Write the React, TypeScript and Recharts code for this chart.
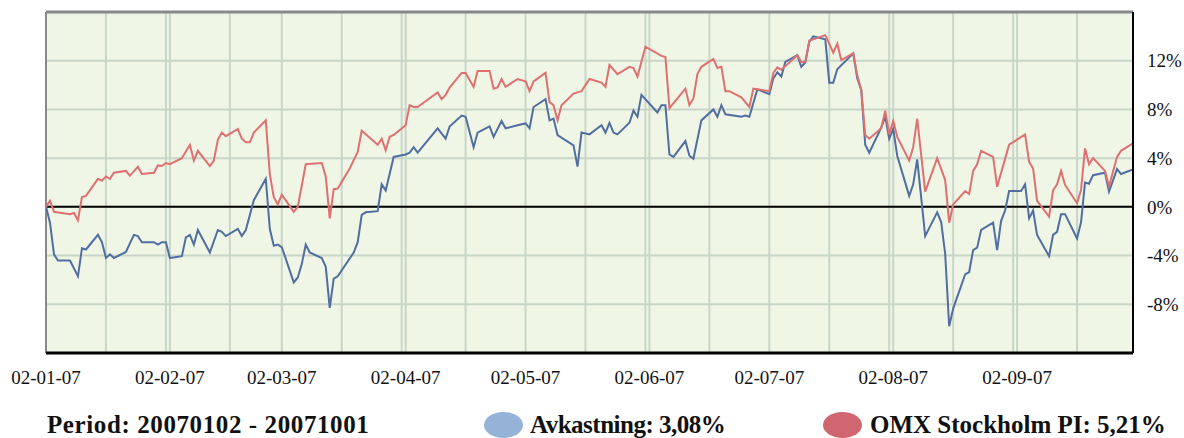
import React from 'react';
import { LineChart, Line, XAxis, YAxis, CartesianGrid, ReferenceLine } from 'recharts';

// Day offsets are calendar days counted from 2007-01-02
const avkDays = [0,1,2,3,6,8,9,10,13,14,15,16,17,20,22,23,24,27,28,29,30,31,34,35,36,37,38,41,43,44,45,48,49,50,52,55,56,57,58,59,62,63,64,65,66,69,70,71,72,73,77,78,79,80,83,84,85,87,90,91,92,93,98,100,101,104,105,107,108,111,112,114,115,118,120,121,122,125,126,127,128,132,133,134,136,139,140,141,142,143,146,147,148,149,153,154,155,156,157,160,161,162,164,167,168,169,170,174,175,176,178,181,182,183,184,185,188,189,190,191,192,195,196,197,198,202,203,204,205,206,209,210,211,212,213,216,217,218,220,223,224,225,226,227,230,231,232,233,234,237,238,239,240,241,244,245,246,247,248,251,252,253,254,255,258,259,260,261,262,265,266,268,269,272];
const avkValues = [0,-1.3,-3.9,-4.4,-4.4,-5.7,-3.4,-3.5,-2.3,-2.9,-4.2,-3.9,-4.2,-3.7,-2.3,-2.4,-2.9,-2.9,-3.1,-2.9,-2.9,-4.2,-4.05,-2.5,-2.3,-3.1,-1.9,-3.75,-1.9,-2.05,-2.4,-1.8,-2.4,-1.9,0.55,2.3,-1.8,-3.2,-3.1,-3.3,-6.2,-5.8,-4.7,-3.1,-3.75,-4.2,-4.9,-8.3,-5.9,-5.7,-3.75,-2.9,-0.65,-0.45,-0.35,1.85,1.35,4.1,4.3,4.45,4.9,4.45,6.45,5.6,6.6,7.5,7.4,4.9,6.1,6.6,5.75,7.05,6.45,6.7,6.85,6.45,8.2,8.85,7.1,7.25,5.9,5.05,3.3,6.1,5.95,6.7,6.1,6.9,6.1,5.95,6.9,7.9,7.4,9.2,7.75,8.35,8.35,4.3,4.1,5.4,4.2,3.95,7.1,8.0,7.4,8.35,7.6,7.4,7.5,7.4,9.65,9.25,10.55,11.05,10.7,11.9,12.45,11.5,11.85,13.55,14.0,13.75,10.2,10.2,11.3,12.6,10.55,9.6,5.1,4.45,6.5,7.4,5.6,6.4,4.2,0.9,1.85,3.9,-2.4,-0.45,-1.25,-3.85,-9.8,-8.35,-5.55,-5.35,-3.55,-3.35,-1.9,-1.3,-3.55,-1.15,-0.3,1.3,1.3,1.85,-0.95,-0.3,-2.3,-4.05,-2.3,-2.05,-0.6,-0.6,-2.6,-1.25,2.0,1.9,2.6,2.8,1.25,3.1,2.7,3.08];

const omxDays = [0,1,2,6,7,8,9,10,13,14,15,16,17,20,21,23,24,27,28,29,30,31,34,36,37,38,41,42,43,44,45,48,49,50,51,52,55,56,57,58,59,62,63,65,69,70,71,72,73,76,78,79,83,84,85,86,87,90,91,92,93,98,99,100,101,104,105,107,108,111,112,113,114,115,118,120,121,122,125,126,127,128,129,132,133,134,136,139,140,141,143,146,147,148,150,154,155,156,160,161,162,163,164,167,168,169,170,171,174,176,177,181,182,183,184,188,189,190,191,192,195,196,197,198,199,202,203,204,205,206,209,210,211,212,213,216,217,218,220,223,225,226,227,230,231,232,233,234,237,238,241,245,246,247,248,251,252,253,254,255,258,259,260,261,262,265,266,268,269,272];
const omxValues = [0,0.5,-0.4,-0.6,-0.5,-1.1,0.8,0.9,2.3,2.15,2.5,2.3,2.8,2.95,2.55,3.3,2.7,2.8,3.4,3.35,3.6,3.5,4.0,5.1,3.8,4.6,3.35,3.8,5.5,6.1,5.8,6.4,5.6,5.3,5.3,6.1,7.1,2.7,0.8,0.2,1.0,-0.4,0,3.5,3.6,2.5,-0.95,1.45,1.5,3.15,4.5,6.25,5.1,5.6,4.65,5.75,5.9,6.7,8.35,8.2,8.2,9.4,8.85,9.2,9.8,11.0,11.0,9.85,11.15,11.15,9.7,9.8,10.5,9.85,10.5,10.3,9.5,10.3,11.0,8.6,8.35,7.1,8.35,9.3,9.4,9.5,10.5,10.2,9.85,11.65,10.9,11.5,11.4,10.7,13.15,12.4,12.3,8.1,9.7,8.35,8.9,10.9,11.5,12.15,11.4,11.5,9.5,9.5,9.0,8.2,9.7,9.5,11.0,11.45,11.25,12.45,11.9,11.9,13.65,13.75,14.1,13.4,12.65,13.4,12.05,12.6,10.8,9.6,5.9,5.6,6.45,7.9,5.95,7.05,5.75,3.8,4.9,7.25,1.25,4.0,2.2,-1.3,0.2,1.3,1.05,2.95,3.5,4.6,4.1,1.65,5.1,5.95,3.7,3.15,0.5,-0.8,1.35,1.85,2.95,1.8,0.3,1.4,4.8,3.5,4.0,2.95,1.7,4.1,4.6,5.21];

const monthTickDays = [0, 31, 59, 90, 120, 151, 181, 212, 243];
const monthTickLabels = ['02-01-07', '02-02-07', '02-03-07', '02-04-07', '02-05-07', '02-06-07', '02-07-07', '02-08-07', '02-09-07'];
const halfMonthGridDays = [15, 30, 46, 74, 89, 105, 135, 150, 166, 196, 211, 227, 242, 258];
const yTicks = [-8, -4, 0, 4, 8, 12];
const yDomain = [-12, 16];
const xDomain = [0, 272];

const periodLabel = 'Period: 20070102 - 20071001';
const avkLabel = 'Avkastning: 3,08%';
const omxLabel = 'OMX Stockholm PI: 5,21%';

const avkData = avkDays.map((d, i) => ({ d, v: avkValues[i] }));
const omxData = omxDays.map((d, i) => ({ d, v: omxValues[i] }));
const allXTicks = Array.from(new Set([...monthTickDays, ...halfMonthGridDays])).sort((a, b) => a - b);

const FONT = 'Liberation Serif, Times New Roman, serif';

const fmtX = (d: number) => {
  const i = monthTickDays.indexOf(d);
  return i >= 0 ? monthTickLabels[i] : '';
};

const legendText: React.CSSProperties = {
  position: 'absolute',
  top: 412,
  fontFamily: FONT,
  fontWeight: 'bold',
  fontSize: 25,
  lineHeight: '25px',
  whiteSpace: 'nowrap',
  color: '#111',
};

export default function App() {
  return (
    <div style={{ position: 'absolute', left: 0, top: 0, width: 1184, height: 438, overflow: 'hidden', background: '#fff' }}>
      <LineChart width={1184} height={400} margin={{ top: 12, right: 0, bottom: 0, left: 46 }}>
        <CartesianGrid stroke="#c8d6c8" strokeWidth={2} fill="#eff6e6" fillOpacity={1} />
        <XAxis
          dataKey="d"
          type="number"
          domain={xDomain}
          ticks={allXTicks}
          interval={0}
          tickFormatter={fmtX}
          tickLine={false}
          tickSize={0}
          tickMargin={18}
          height={47}
          axisLine={{ stroke: '#000', strokeWidth: 3 }}
          tick={{ fontSize: 19, fontFamily: FONT, fill: '#111' }}
          allowDataOverflow
        />
        <YAxis
          orientation="right"
          type="number"
          domain={yDomain}
          ticks={yTicks}
          interval={0}
          tickFormatter={(v: number) => `${v}%`}
          width={51}
          tickLine={false}
          tickSize={0}
          tickMargin={14}
          axisLine={{ stroke: '#000', strokeWidth: 2 }}
          tick={{ fontSize: 19, fontFamily: FONT, fill: '#111' }}
          allowDataOverflow
        />
        <ReferenceLine y={0} stroke="#000" strokeWidth={2} />
        <ReferenceLine y={16} stroke="#888" strokeWidth={3} />
        <ReferenceLine x={0} stroke="#888" strokeWidth={2} />
        <Line data={avkData} dataKey="v" type="linear" stroke="#506ea0" strokeWidth={2} dot={false} isAnimationActive={false} />
        <Line data={omxData} dataKey="v" type="linear" stroke="#e07070" strokeWidth={2} dot={false} isAnimationActive={false} />
      </LineChart>
      <div style={{ ...legendText, left: 47, letterSpacing: '0.6px' }}>{periodLabel}</div>
      <div style={{ position: 'absolute', left: 484, top: 412, width: 39, height: 26, borderRadius: '50%', background: '#95b3d7' }} />
      <div style={{ ...legendText, left: 530, letterSpacing: '-0.5px' }}>{avkLabel}</div>
      <div style={{ position: 'absolute', left: 823, top: 412, width: 39, height: 26, borderRadius: '50%', background: '#cf6670' }} />
      <div style={{ ...legendText, left: 870 }}>{omxLabel}</div>
    </div>
  );
}
